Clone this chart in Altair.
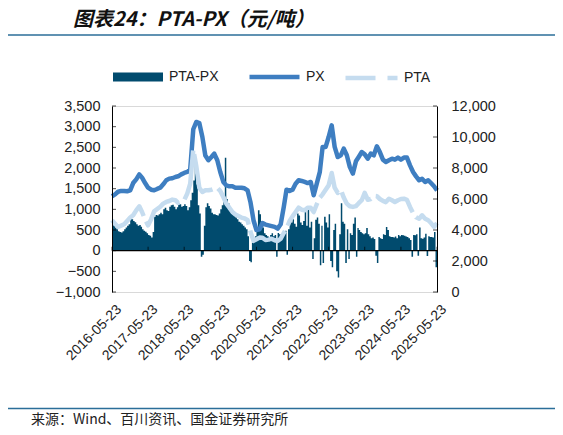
import altair as alt
import pandas as pd

START = "2016-05-23"
TICK_DATES = ["2016-05-23", "2017-05-23", "2018-05-23", "2019-05-23", "2020-05-23",
              "2021-05-23", "2022-05-23", "2023-05-23", "2024-05-23", "2025-05-23"]
LEFT_TICKS = [-1000, -500, 0, 500, 1000, 1500, 2000, 2500, 3000, 3500]
RIGHT_TICKS = [0, 2000, 4000, 6000, 8000, 10000, 12000]
SERIES = ["PTA-PX", "PX", "PTA"]
COLORS = ["#014B6E", "#3E7EC1", "#C5DCEF"]

# monthly PX (right axis, 元/吨), 2016-05 .. 2025-05
PX = [6180, 6300, 6470, 6520, 6520, 6500, 6560, 7030, 7270, 7590,
      7380, 7030, 6730, 6600, 6560, 6650, 6730, 6950, 7210, 7315,
      7340, 7420, 7465, 7590, 7680, 7744, 7900, 10500, 10970, 10900,
      10000, 8800, 8500, 8710, 8930, 8500, 7740, 7100, 6880, 6820,
      6820, 6730, 6730, 6730, 6690, 6560, 5810, 4630, 4000, 4050,
      4450, 4350, 4300, 4250, 4200, 4090, 4370, 5480, 6600, 6520,
      6600, 6990, 7210, 7165, 7100, 7030, 7100, 6240, 6990, 7750,
      9360, 9360, 10000, 10750, 9360, 8710, 8820, 9250, 8820, 8070,
      7640, 8430, 8710, 9030, 8880, 8600, 8930, 8820, 9400, 9030,
      8540, 8390, 8500, 8600, 8540, 8670, 8540, 8670, 8670, 8170,
      7740, 7460, 7210, 7310, 7100, 7210, 7030, 6820, 6560]

# monthly PTA (right axis, 元/吨)
PTA = [4630, 4410, 4200, 4280, 4370, 4580, 4800, 4950, 5270, 5530,
       5160, 4670, 4300, 4700, 5200, 5350, 5500, 5700, 5810, 5870,
       5960, 5920, 5750, 5810, 5920, 6350, 6990, 9200, 8100, 6730,
       6450, 6560, 6560, 6600, 6670, 6730, 6520, 6130, 5700, 5440,
       5160, 5000, 4900, 4800, 4750, 4650, 3900, 3300, 3400, 3510,
       3500, 3350, 3380, 3440, 3340, 3290, 3440, 3810, 4090, 4580,
       4880, 5160, 5440, 5310, 5270, 5440, 5440, 5160, 5660, 6090,
       6300, 6600, 6880, 7680, 6730, 6390, 6600, 6090, 5700, 5530,
       5490, 5540, 5730, 5920, 6400, 5950, 6000, 6200, 6180, 6000,
       5880, 5800, 6020, 5920, 5810, 5920, 6000, 6020, 5950, 5490,
       5100, 4820, 4730, 4950, 4730, 4630, 4450, 4200, 4450]

# half-monthly PTA-PX spread (left axis, 元/吨)
SPREAD = [
    680, 600, 560, 520, 470, 450, 440, 470, 520, 560, 600, 640, 830, 760, 720, 690,
    640, 600, 620, 580, 520, 480, 460, 420, 380, 360, 320, 450, 820, 860, 850, 880,
    920, 880, 1000, 1040, 980, 960, 1060, 1100,
    1110, 1060, 1000, 1050, 1150, 1120, 1060, 1080, 1120, 1080, 980, 1050, 1220, 1400,
    1700, 2200, 1600, 1100, 900, -150, -100, 600, 1050, 1150,
    1080, 1020, 920, 880, 880, 860, 850, 900, 1000, 1100, 1300, 2250, 1250, 1150,
    1020, 980, 880, 850, 800, 760, 700, 680, 640, 600,
    560, 520, 350, -250, -280, 200, 250, 350, 450, 980, 880, 600, 560, 420, 380, 350,
    330, 380, 420, 350, 380, -150, 430, 400,
    380, 450, 450, 480, -100, 520, 720, 680, 760, 650, 580, 900, 850, 680, 620, 720,
    980, 600, 1000, 560, 700, -200, 300, 750,
    800, 650, -350, 600, -300, 820, 680, 560, 880, -250, -400, 500, 650, -500, -650, 400,
    1150, 700, 650, -300, 520, -200, 420, 380,
    650, 800, -150, 550, 500, 450, 420, 400, 420, 550, 400, 350, 300, 320, 280, -120,
    -300, 330, 300, 280, 400, 380, 570, 500,
    350, 330, 330, 320, 340, 300, 380, 350, 380, 370, 360, 340, 330, 300, 260, -150,
    380, 370, 400, -120, 560, 300, 290, 320,
    410, -130, 350, 330, 330, 320, 450, -400,
    360]

TITLE = "图表24：PTA-PX（元/吨）"
SOURCE = "来源：Wind、百川资讯、国金证券研究所"

FONT = "Liberation Sans"
CJK = "Noto Sans CJK SC"
TXT = "#222222"


def ms(s):
    return int(pd.Timestamp(s, tz="UTC").timestamp() * 1000)


months = list(pd.date_range(START, periods=len(PX), freq=pd.DateOffset(months=1)))
starts = []
for i, d in enumerate(months):
    starts.append(d)
    if i < len(months) - 1:
        starts.append(d + pd.Timedelta(days=15))
n = min(len(starts), len(SPREAD))

bar_df = pd.DataFrame({
    "t": [d.strftime("%Y-%m-%d") for d in starts[:n]],
    "v": SPREAD[:n],
    "s": SERIES[0],
})
mstr = [d.strftime("%Y-%m-%d") for d in months]
px_df = pd.DataFrame({"t": mstr, "v": PX, "s": SERIES[1]})
pta_df = pd.DataFrame({"t": mstr, "v": PTA, "s": SERIES[2]})
xt_df = pd.DataFrame({"t": TICK_DATES})
lt_df = pd.DataFrame({"v": LEFT_TICKS})
rt_df = pd.DataFrame({"v": RIGHT_TICKS})
one = pd.DataFrame({"a": [0]})

xscale = alt.Scale(type="utc", domain=[ms(TICK_DATES[0]), ms(TICK_DATES[-1])])
xaxis = alt.Axis(title=None, values=[ms(d) for d in TICK_DATES],
                 labelExpr="utcFormat(datum.value, '%Y-%m-%d')",
                 labelAngle=-45, labelAlign="right", labelBaseline="middle",
                 labelPadding=15, labelOffset=7, ticks=False, domain=False, grid=False,
                 labelFlush=False, labelOverlap=False, labelBound=False,
                 labelFont=FONT, labelFontSize=14, labelColor=TXT)

left_scale = alt.Scale(domain=[-1000, 3500], nice=False, zero=False)
left_axis = alt.Axis(title=None, orient="left", values=LEFT_TICKS,
                     labelExpr="format(datum.value, ',')", ticks=False,
                     domainColor="#000000", domainWidth=1, labelPadding=12, grid=False,
                     labelFont=FONT, labelFontSize=14.5, labelColor=TXT, zindex=1)
right_scale = alt.Scale(domain=[0, 12000], nice=False, zero=False)
right_axis = alt.Axis(title=None, orient="right", values=RIGHT_TICKS,
                      labelExpr="format(datum.value, ',')", ticks=False,
                      domainColor="#000000", domainWidth=1, labelPadding=14, grid=False,
                      labelFont=FONT, labelFontSize=14.5, labelColor=TXT, zindex=1)

RECT = "M-1,-0.18H1V0.18H-1Z"
leg_common = dict(title=None, orient="none", direction="horizontal", padding=0,
                  labelFont=FONT, labelFontSize=14, labelColor=TXT)

bars = alt.Chart(bar_df).mark_area(interpolate="step-after", clip=True).encode(
    x=alt.X("t:T", scale=xscale, axis=xaxis),
    y=alt.Y("v:Q", scale=left_scale, axis=left_axis),
    y2=alt.Y2Datum(0),
    color=alt.Color("s:N", scale=alt.Scale(domain=[SERIES[0]], range=[COLORS[0]]),
                    legend=alt.Legend(legendX=1, legendY=-54, symbolType=RECT, symbolSize=2500,
                                      symbolStrokeWidth=0, symbolOpacity=1, labelOffset=6,
                                      **leg_common)),
)

zero_rule = alt.Chart(one).mark_rule(color="#000000", strokeWidth=1.2).encode(
    y=alt.YDatum(0, scale=left_scale, axis=None)
)

zero_ticks = alt.Chart(xt_df).mark_tick(orient="vertical", size=4, thickness=1, yOffset=-2,
                                        color="#000000").encode(
    x=alt.X("t:T", scale=xscale, axis=None),
    y=alt.YDatum(0, scale=left_scale, axis=None),
)

left_ticks = alt.Chart(lt_df).mark_tick(orient="horizontal", size=4, thickness=1,
                                        color="#000000").encode(
    x=alt.value(2),
    y=alt.Y("v:Q", scale=left_scale, axis=None),
)

left = alt.layer(bars, zero_rule, zero_ticks, left_ticks).resolve_axis(
    x="independent", y="independent")

px_line = alt.Chart(px_df).mark_line(strokeWidth=4.5, strokeJoin="round").encode(
    x=alt.X("t:T", scale=xscale, axis=None),
    y=alt.Y("v:Q", scale=right_scale, axis=right_axis),
    color=alt.Color("s:N", scale=alt.Scale(domain=[SERIES[1]], range=[COLORS[1]]),
                    legend=alt.Legend(legendX=135, legendY=-56.5, symbolType="stroke",
                                      symbolSize=2500, symbolStrokeWidth=4.5, labelOffset=4,
                                      **leg_common)),
)

pta_line = alt.Chart(pta_df).mark_line(strokeWidth=4.5, strokeJoin="round",
                                       strokeDash=[50, 6]).encode(
    x=alt.X("t:T", scale=xscale, axis=None),
    y=alt.Y("v:Q", scale=right_scale, axis=None),
    color=alt.Color("s:N", scale=alt.Scale(domain=[SERIES[2]], range=[COLORS[2]]),
                    legend=alt.Legend(legendX=231, legendY=-56.5, symbolType="stroke",
                                      symbolSize=2704, symbolStrokeWidth=4.5,
                                      symbolDash=[30, 12], labelOffset=4, **leg_common)),
)

right_ticks = alt.Chart(rt_df).mark_tick(orient="horizontal", size=4, thickness=1,
                                         color="#000000").encode(
    x=alt.value(323),
    y=alt.Y("v:Q", scale=right_scale, axis=None),
)

right = alt.layer(px_line, pta_line, right_ticks).resolve_scale(color="independent").resolve_axis(
    x="independent", y="independent")

title_txt = alt.Chart(one).mark_text(text=TITLE, font=CJK, fontSize=20, fontWeight="bold",
                                     fontStyle="italic", align="left", baseline="middle",
                                     color="#111111").encode(
    x=alt.value(-39), y=alt.value(-86))

top_rule = alt.Chart(one).mark_rule(color="#2B6E99", strokeWidth=1.5).encode(
    x=alt.value(-104), x2=alt.value(443), y=alt.value(-71))

bottom_rule = alt.Chart(one).mark_rule(color="#2B6E99", strokeWidth=1.5).encode(
    x=alt.value(-104), x2=alt.value(443), y=alt.value(302.5))

source_txt = alt.Chart(one).mark_text(text=SOURCE, font=CJK, fontSize=14, align="left",
                                      baseline="alphabetic", color="#222222").encode(
    x=alt.value(-81), y=alt.value(318))

chart = alt.layer(left, right, title_txt, top_rule, bottom_rule, source_txt).resolve_scale(
    y="independent", color="independent"
).resolve_axis(x="independent", y="independent").properties(
    width=325, height=186,
    padding={"left": 104, "top": 98, "right": 118, "bottom": 135},
    autosize=alt.AutoSizeParams(type="none"),
    background="#ffffff",
).configure_view(stroke="#d9d9d9", strokeWidth=1)

chart.save("out.html", embed_options={"renderer": "svg", "actions": False})
